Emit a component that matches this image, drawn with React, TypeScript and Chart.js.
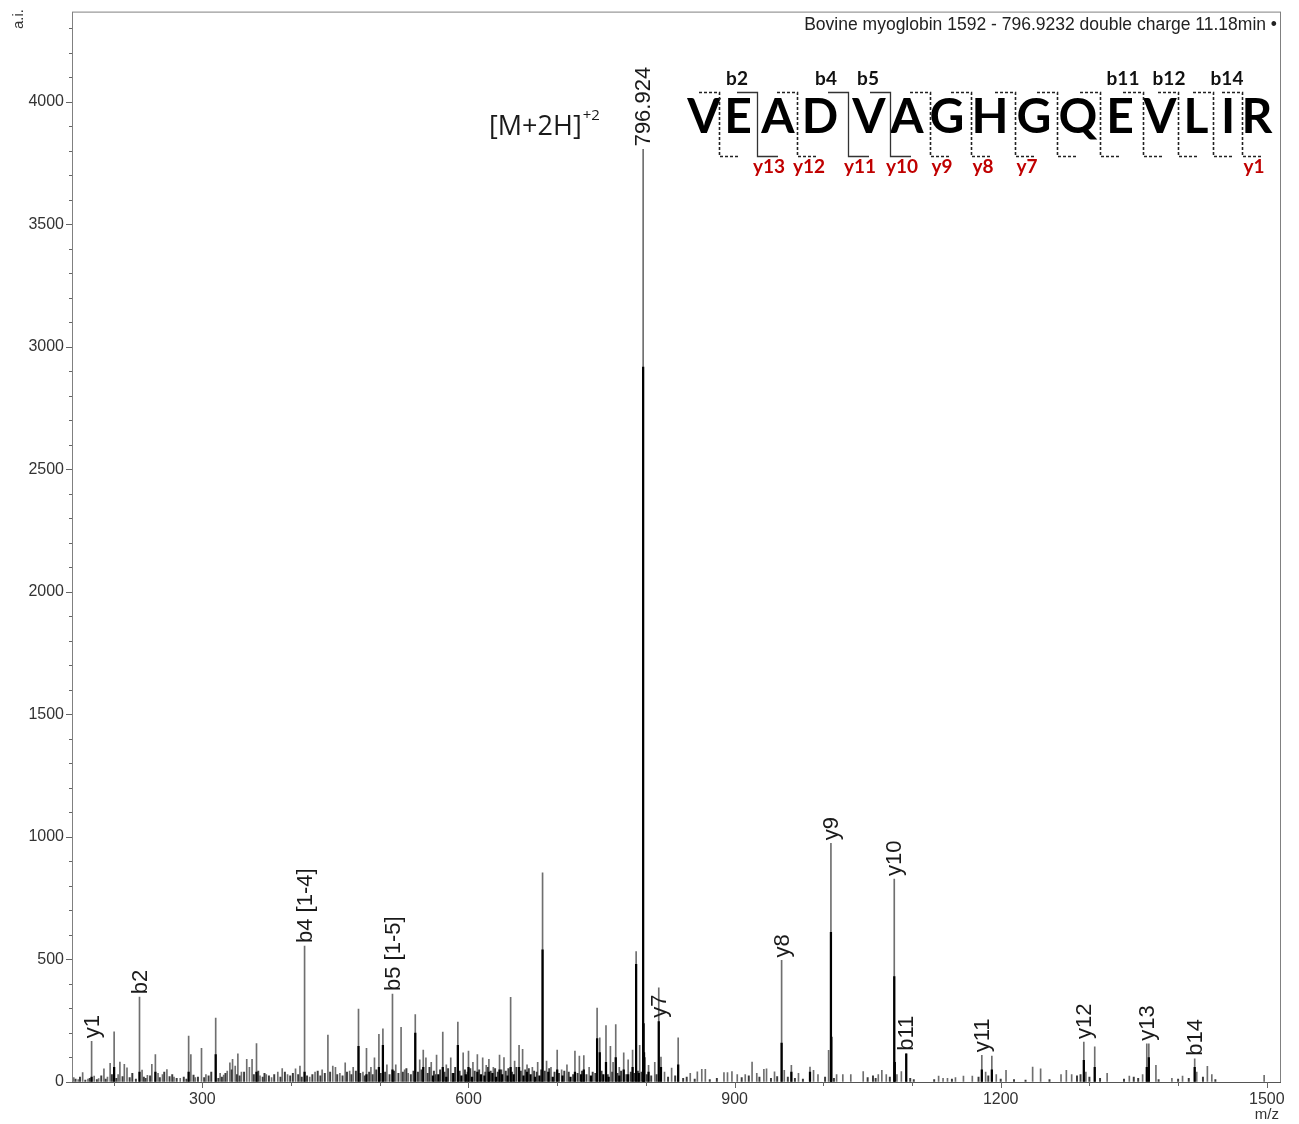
import React, { useEffect, useRef } from "react";
import { Chart, registerables } from "chart.js";

Chart.register(...registerables);

// ---------- DATA ----------
// profile (gray) sticks: m/z and intensity (a.i.)
const profileMz = [
  155, 160, 165, 171, 175.1, 178, 183, 189, 193, 196, 200.5, 205, 207, 212, 215, 229.1, 232, 238, 243, 247,
  250, 255, 260, 268, 275, 284.5, 287, 292, 299, 304, 315, 320, 324, 328, 331, 334, 337, 340, 344, 350,
  353, 356, 361, 365, 372, 378, 385, 390, 396, 405, 410, 415.2, 421, 427, 435, 441.5, 447, 450, 455, 461,
  466, 470, 476, 481, 485, 490, 494, 499, 503.5, 508, 514.3, 518, 524, 528, 532, 540, 545, 549, 552, 558,
  564, 571, 575, 580, 588, 594, 600, 605, 610, 616, 620, 623, 628, 635, 640, 647.5, 652, 657, 661, 666,
  672, 678, 683.5, 688, 693, 700, 705, 711, 720, 725, 730, 736, 745, 748, 755, 760, 763, 766, 770, 775,
  780, 785, 789, 793, 796.9, 799, 803, 810, 814.5, 817, 821, 829, 836.4, 850, 858, 863, 867, 888, 892, 897,
  903, 912, 919.7, 925, 933, 936, 945, 953, 956, 964, 972, 985, 989, 994, 1006, 1008.6, 1015, 1022, 1031, 1045,
  1062, 1066, 1071, 1080, 1083, 1088, 1093.5, 1130, 1135, 1140, 1149, 1158, 1168, 1178.7, 1183, 1190, 1195, 1206, 1236, 1245,
  1268, 1274, 1280, 1293.7, 1296, 1306, 1320, 1345, 1360, 1364.7, 1367, 1375, 1393, 1405, 1418.7, 1421, 1433, 1438, 1497,
];
const profileInt = [
  18, 10, 38, 12, 166, 24, 14, 54, 20, 76, 205, 30, 81, 72, 58, 346, 49, 27, 72, 112,
  35, 30, 51, 20, 15, 187, 112, 18, 137, 30, 261, 35, 28, 45, 78, 92, 65, 115, 40, 92,
  60, 92, 157, 25, 30, 18, 40, 55, 30, 54, 65, 555, 20, 40, 50, 191, 65, 60, 35, 78,
  45, 60, 298, 40, 137, 60, 99, 194, 217, 70, 359, 70, 223, 50, 35, 275, 90, 130, 99, 80,
  110, 204, 70, 99, 244, 119, 126, 80, 112, 99, 68, 92, 60, 110, 100, 345, 85, 150, 133, 70,
  60, 80, 853, 85, 60, 130, 50, 70, 126, 106, 108, 60, 302, 180, 230, 146, 80, 234, 60, 119,
  90, 130, 532, 150, 3805, 100, 68, 80, 384, 102, 40, 57, 180, 35, 41, 52, 52, 38, 38, 43,
  30, 30, 81, 35, 52, 54, 41, 496, 48, 68, 35, 61, 48, 30, 129, 974, 30, 30, 30, 43,
  30, 48, 30, 828, 30, 43, 115, 24, 15, 15, 18, 24, 24, 109, 40, 106, 30, 48, 61, 54,
  30, 48, 30, 163, 40, 143, 35, 24, 30, 156, 156, 68, 15, 24, 95, 40, 64, 30, 27,
];

// low-level baseline noise sticks
const noiseMz = [
  157, 162, 168, 173, 181, 186, 191, 198, 203, 210, 218, 221, 225, 234, 236, 241, 252, 257, 263, 266,
  271, 279, 282, 290, 295, 302, 307, 310, 318, 322, 326, 333, 339, 342, 347, 358, 363, 368, 370, 375,
  381, 388, 393, 399, 402, 408, 412, 418, 424, 430, 433, 438, 444, 452, 458, 463, 468, 473, 478, 483,
  488, 492, 496, 501, 506, 511, 516, 521, 526, 530, 535, 538, 543, 547, 554, 556, 561, 563, 568, 573,
  577, 582, 585, 590, 596, 599, 602, 607, 612, 619, 622, 625, 630, 633, 637, 642, 645, 649, 654, 659,
  664, 668, 674, 677, 682, 686, 691, 697, 702, 708, 713, 718, 723, 728, 733, 740, 743, 750, 757, 762,
  768, 772, 778, 783, 787, 791, 795, 801, 806, 812, 825, 833, 842, 846, 855, 872, 880, 908, 916, 928,
  941, 948, 960, 968, 977, 1002, 1012, 1050, 1056, 1059, 1075, 1098, 1102, 1125, 1145, 1175, 1186, 1200, 1215, 1228,
  1255, 1286, 1290, 1300, 1312, 1339, 1350, 1355, 1378, 1400, 1412, 1428, 1442,
];
const noiseInt = [
  12, 20, 8, 15, 10, 25, 12, 30, 15, 22, 18, 35, 12, 20, 15, 25, 18, 40, 22, 30,
  15, 20, 12, 28, 20, 18, 25, 40, 15, 20, 35, 50, 30, 25, 40, 30, 45, 20, 35, 25,
  30, 20, 40, 25, 35, 30, 20, 25, 30, 45, 25, 35, 40, 30, 25, 40, 30, 45, 35, 25,
  40, 30, 50, 35, 40, 30, 45, 35, 40, 55, 30, 45, 40, 50, 35, 60, 45, 30, 50, 40,
  55, 35, 60, 45, 50, 40, 55, 45, 50, 40, 60, 45, 55, 40, 50, 45, 55, 40, 60, 45,
  50, 55, 45, 40, 50, 45, 55, 40, 35, 45, 40, 30, 35, 45, 30, 40, 35, 45, 30, 40,
  35, 45, 30, 40, 35, 45, 40, 30, 25, 30, 20, 25, 15, 20, 12, 10, 15, 18, 25, 20,
  15, 22, 20, 15, 12, 20, 15, 18, 25, 15, 20, 15, 10, 10, 12, 20, 25, 12, 10, 8,
  10, 25, 30, 20, 15, 12, 20, 15, 10, 12, 15, 20, 10,
];

// centroid (black) sticks
const centroidMz = [
  175.1, 200.5, 229.1, 247, 284.5, 315, 361, 415.2, 476, 485, 499, 503.5, 514.3, 540, 549, 560, 566, 571, 575, 583,
  588, 592, 597, 600, 604, 610, 614, 618, 623, 627, 631, 635, 638, 644, 647.5, 651, 657, 662, 666, 670,
  675, 680, 683.5, 690, 695, 700, 706, 715, 720, 727, 730, 738, 745, 748, 752, 755, 758, 766, 770, 775,
  780, 785, 789, 792, 796.9, 797.4, 797.9, 803, 814.5, 817, 836.4, 953, 964, 985, 1008.6, 1009.1, 1080, 1080.6, 1093.5, 1178.7,
  1190, 1293.7, 1306, 1364.7, 1367, 1418.7,
];
const centroidInt = [
  20, 60, 40, 40, 40, 112, 40, 40, 146, 30, 60, 150, 50, 200, 60, 25, 30, 60, 20, 35,
  150, 25, 30, 60, 20, 40, 30, 25, 40, 35, 20, 50, 30, 25, 60, 30, 60, 25, 40, 30,
  20, 25, 539, 40, 20, 50, 25, 20, 40, 30, 50, 25, 177, 120, 30, 80, 20, 100, 25, 50,
  30, 60, 480, 35, 2917, 238, 120, 40, 247, 60, 70, 159, 40, 40, 611, 183, 430, 80, 115, 50,
  50, 88, 60, 60, 100, 60,
];

// annotated peaks
const labelMz = [175.1, 229.1, 415.2, 514.3, 796.9, 814.5, 953, 1008.6, 1080, 1093.5, 1178.7, 1293.7, 1364.7, 1418.7];
const labelAnchor = [166, 346, 555, 359, 3805, 250, 496, 974, 828, 115, 109, 163, 156, 95];
const labelText = ["y1", "b2", "b4 [1-4]", "b5 [1-5]", "796.924", "y7", "y8", "y9", "y10", "b11", "y11", "y12", "y13", "b14"];

// axis ticks
const yLabelTicks = [0, 500, 1000, 1500, 2000, 2500, 3000, 3500, 4000];
const xLabelTicks = [300, 600, 900, 1200, 1500];

// peptide sequence
const sequence = ["V", "E", "A", "D", "V", "A", "G", "H", "G", "Q", "E", "V", "L", "I", "R"];
const bIonsSeen = [2, 4, 5, 11, 12, 14];
const yIonsSeen = [13, 12, 11, 10, 9, 8, 7, 1];
const solidCuts = [2, 4, 5];

const titleText = "Bovine myoglobin 1592 - 796.9232 double charge 11.18min \u2022";

// ---------- LAYOUT (decoration only) ----------
const letterX = [704, 738, 778, 820, 869, 907, 947, 990, 1034, 1078, 1120, 1160, 1196, 1228, 1257];
const cutX = [719, 757, 797, 848, 890, 930, 971, 1015, 1057, 1100, 1143, 1178, 1213, 1242];
const bLabelX = [737, 826, 868, 1123, 1169, 1227];

const SANS = "'Liberation Sans', Arial, sans-serif";
const OPEN = "'Open Sans', 'Noto Sans', sans-serif";
const SEQ = "Lato, 'Open Sans', sans-serif";

const overlay = {
  id: "overlay",
  afterDraw(chart: any) {
    const { ctx, chartArea: a, scales } = chart;
    const xs = scales.x;
    const ys = scales.y;
    ctx.save();

    // frame
    ctx.strokeStyle = "#808080";
    ctx.lineWidth = 1;
    ctx.strokeRect(a.left + 0.5, a.top + 0.5, a.right - a.left - 1, a.bottom - a.top);
    ctx.strokeStyle = "#555";
    ctx.beginPath();
    ctx.moveTo(a.left, a.bottom + 0.5);
    ctx.lineTo(a.right, a.bottom + 0.5);
    ctx.stroke();

    // y ticks (every 100, longer every 500)
    ctx.strokeStyle = "#666";
    for (let v = 0; v <= ys.max; v += 100) {
      const y = Math.round(ys.getPixelForValue(v)) + 0.5;
      const len = v % 500 === 0 ? 6 : 3;
      ctx.beginPath();
      ctx.moveTo(a.left - len, y);
      ctx.lineTo(a.left, y);
      ctx.stroke();
    }
    // x ticks (every 100, longer every 300)
    for (let v = 200; v <= xs.max; v += 100) {
      const x = Math.round(xs.getPixelForValue(v)) + 0.5;
      const len = v % 300 === 0 ? 6 : 4;
      ctx.beginPath();
      ctx.moveTo(x, a.bottom);
      ctx.lineTo(x, a.bottom + len);
      ctx.stroke();
    }

    // peak labels
    ctx.fillStyle = "#1a1a1a";
    ctx.font = `22px ${SANS}`;
    ctx.textAlign = "left";
    ctx.textBaseline = "middle";
    labelMz.forEach((mz, i) => {
      const x = xs.getPixelForValue(mz) + 1;
      const y = ys.getPixelForValue(labelAnchor[i]) - 3;
      ctx.save();
      ctx.translate(x, y);
      ctx.rotate(-Math.PI / 2);
      ctx.fillText(labelText[i], 0, 0);
      ctx.restore();
    });

    // title
    ctx.font = `17.5px ${SANS}`;
    ctx.fillStyle = "#222";
    ctx.textAlign = "right";
    ctx.textBaseline = "alphabetic";
    ctx.fillText(titleText, a.right - 4, 30);

    // a.i. and m/z
    ctx.font = `15px ${SANS}`;
    ctx.fillStyle = "#333";
    ctx.save();
    ctx.translate(19, 19);
    ctx.rotate(-Math.PI / 2);
    ctx.textAlign = "center";
    ctx.textBaseline = "middle";
    ctx.fillText("a.i.", 0, 0);
    ctx.restore();
    ctx.textAlign = "center";
    ctx.textBaseline = "middle";
    ctx.fillText("m/z", xs.getPixelForValue(1500), 1115);

    // [M+2H]+2
    ctx.fillStyle = "#1a1a1a";
    ctx.textAlign = "left";
    ctx.textBaseline = "alphabetic";
    ctx.font = `27px ${OPEN}`;
    ctx.fillText("[M+2H]", 489, 135);
    const w = ctx.measureText("[M+2H]").width;
    ctx.font = `15px ${OPEN}`;
    ctx.fillText("+2", 489 + w + 1, 120);

    // sequence letters
    ctx.font = `bold 48px ${SEQ}`;
    ctx.fillStyle = "#000";
    ctx.textAlign = "center";
    sequence.forEach((ch, i) => ctx.fillText(ch, letterX[i], 133));

    // fragmentation brackets
    const topY = 92.5;
    const botY = 156.5;
    cutX.forEach((gx, i) => {
      const cut = i + 1;
      const solid = solidCuts.includes(cut);
      ctx.setLineDash(solid ? [] : [3, 2]);
      ctx.strokeStyle = solid ? "#333" : "#222";
      ctx.lineWidth = solid ? 1.3 : 1.6;
      ctx.beginPath();
      ctx.moveTo(gx - 20, topY);
      ctx.lineTo(gx + 0.5, topY);
      ctx.lineTo(gx + 0.5, botY);
      ctx.lineTo(gx + 21, botY);
      ctx.stroke();
    });
    ctx.setLineDash([]);

    // b / y ion labels
    ctx.font = `bold 19px ${SEQ}`;
    ctx.textAlign = "center";
    ctx.fillStyle = "#111";
    bIonsSeen.forEach((n, i) => {
      ctx.fillText("b" + n, bLabelX[i], 85);
    });
    ctx.fillStyle = "#c00000";
    yIonsSeen.forEach((n) => {
      const cut = 15 - n;
      ctx.fillText("y" + n, cutX[cut - 1] + 12, 173);
    });

    ctx.restore();
  },
};

export default function App() {
  const ref = useRef<HTMLCanvasElement | null>(null);

  useEffect(() => {
    if (!ref.current) return;
    Chart.defaults.font.family = SANS;
    const profile = profileMz.map((x, i) => ({ x, y: profileInt[i] }));
    const noise = noiseMz.map((x, i) => ({ x, y: noiseInt[i] }));
    const centroid = centroidMz.map((x, i) => ({ x, y: centroidInt[i] }));

    const chart = new Chart(ref.current, {
      type: "bar",
      data: {
        datasets: [
          {
            label: "profile",
            data: profile as any,
            backgroundColor: "#6f6f6f",
            barThickness: 1,
            grouped: false,
            order: 3,
          } as any,
          {
            label: "noise",
            data: noise as any,
            backgroundColor: "#3c3c3c",
            barThickness: 1.3,
            grouped: false,
            order: 2,
          } as any,
          {
            label: "centroid",
            data: centroid as any,
            backgroundColor: "#000000",
            barThickness: 1.6,
            grouped: false,
            order: 1,
          } as any,
        ],
      },
      options: {
        animation: false,
        responsive: false,
        devicePixelRatio: 1,
        layout: { padding: { top: 10, right: 18, left: 0, bottom: 0 } },
        plugins: { legend: { display: false }, tooltip: { enabled: false }, title: { display: false } },
        scales: {
          x: {
            type: "linear",
            min: 153,
            max: 1516,
            offset: false,
            grid: { display: true, drawOnChartArea: false, drawTicks: true, tickLength: 5, tickColor: "rgba(0,0,0,0)" },
            border: { display: false },
            afterBuildTicks: (axis: any) => {
              axis.ticks = xLabelTicks.map((v) => ({ value: v }));
            },
            afterFit: (axis: any) => {
              axis.height = 42;
            },
            ticks: {
              autoSkip: false,
              maxRotation: 0,
              padding: 3,
              color: "#333",
              font: { size: 16, family: SANS },
              callback: (v: any) => String(v),
            },
          },
          y: {
            type: "linear",
            min: 0,
            max: 4367,
            grid: { display: true, drawOnChartArea: false, drawTicks: true, tickLength: 6, tickColor: "rgba(0,0,0,0)" },
            border: { display: false },
            afterBuildTicks: (axis: any) => {
              axis.ticks = yLabelTicks.map((v) => ({ value: v }));
            },
            afterFit: (axis: any) => {
              axis.width = 72;
            },
            ticks: {
              autoSkip: false,
              padding: 2,
              color: "#333",
              font: { size: 16, family: SANS },
              callback: (v: any) => String(v),
            },
          },
        },
      },
      plugins: [overlay],
    });
    return () => chart.destroy();
  }, []);

  return (
    <div style={{ position: "absolute", left: 0, top: 0, width: 1299, height: 1124, background: "#fff" }}>
      <canvas ref={ref} width={1299} height={1124} style={{ display: "block" }} />
    </div>
  );
}
